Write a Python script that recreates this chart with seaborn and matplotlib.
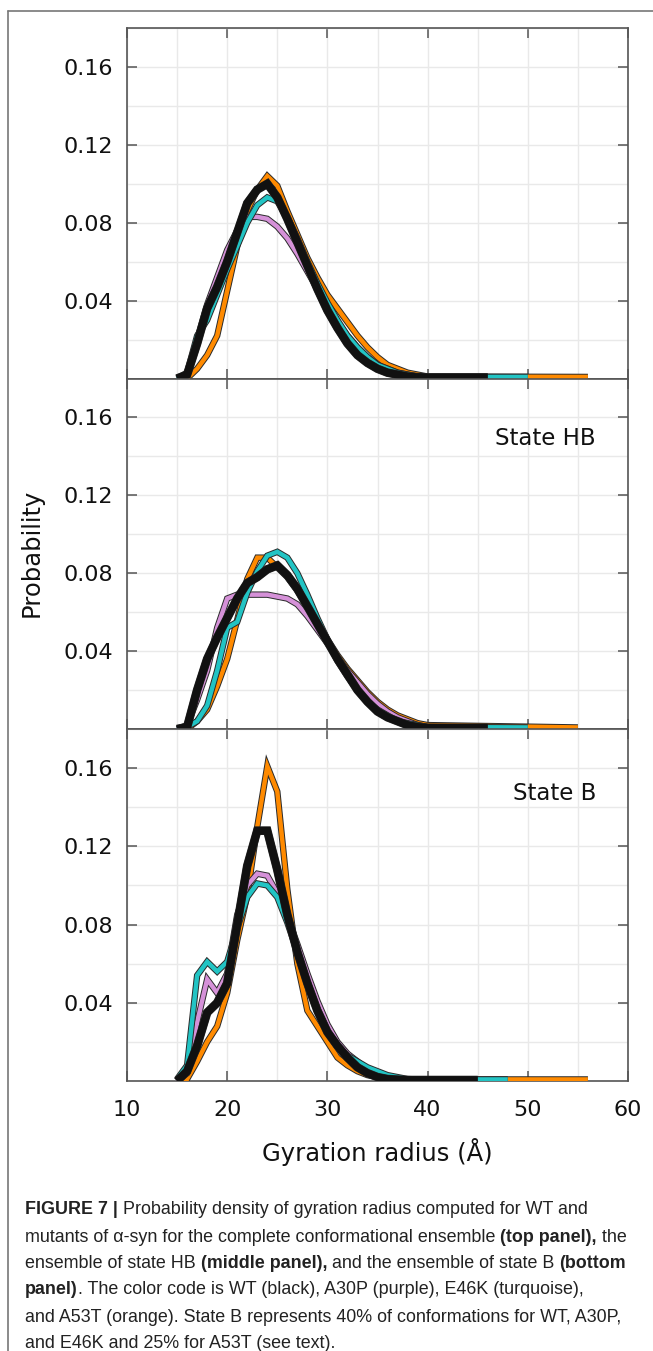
import numpy as np
import pandas as pd
import seaborn as sns
import matplotlib
matplotlib.use("Agg")
import matplotlib.pyplot as plt
import matplotlib.patheffects as pe
from matplotlib.lines import Line2D
from matplotlib.ticker import MultipleLocator

# ---------------- data ----------------
radius = [15, 16, 17, 18, 19, 20, 21, 22, 23, 24, 25, 26, 27, 28, 29, 30,
          31, 32, 33, 34, 35, 36, 37, 38, 39, 40]

# complete ensemble (top panel)
full_wt   = [0.000, 0.002, 0.018, 0.036, 0.047, 0.060, 0.075, 0.090, 0.097, 0.100, 0.093, 0.082, 0.070,
             0.058, 0.046, 0.035, 0.026, 0.018, 0.012, 0.008, 0.005, 0.003, 0.002, 0.001, 0.0007, 0.0005]
full_a30p = [0.000, 0.002, 0.020, 0.038, 0.052, 0.066, 0.076, 0.083, 0.083, 0.082, 0.078, 0.072, 0.064,
             0.055, 0.046, 0.037, 0.029, 0.022, 0.016, 0.011, 0.007, 0.005, 0.003, 0.002, 0.001, 0.0007]
full_e46k = [0.000, 0.003, 0.022, 0.030, 0.043, 0.056, 0.068, 0.080, 0.089, 0.093, 0.091, 0.083, 0.072,
             0.060, 0.049, 0.039, 0.030, 0.022, 0.016, 0.011, 0.007, 0.005, 0.003, 0.002, 0.001, 0.0008]
full_a53t = [0.000, 0.000, 0.005, 0.012, 0.022, 0.045, 0.068, 0.086, 0.097, 0.104, 0.099, 0.086, 0.074,
             0.062, 0.052, 0.043, 0.036, 0.029, 0.022, 0.016, 0.011, 0.007, 0.005, 0.003, 0.002, 0.001]
full_tail = [46, 46, 50, 56]

# state HB (middle panel)
hb_wt   = [0.000, 0.001, 0.020, 0.036, 0.047, 0.057, 0.067, 0.075, 0.078, 0.082, 0.084, 0.079, 0.072,
           0.063, 0.054, 0.045, 0.036, 0.028, 0.020, 0.014, 0.009, 0.006, 0.004, 0.002, 0.001, 0.0006]
hb_a30p = [0.000, 0.002, 0.015, 0.030, 0.052, 0.067, 0.069, 0.069, 0.069, 0.069, 0.068, 0.067, 0.064,
           0.058, 0.051, 0.044, 0.037, 0.030, 0.024, 0.018, 0.013, 0.009, 0.006, 0.004, 0.002, 0.001]
hb_e46k = [0.000, 0.001, 0.004, 0.012, 0.030, 0.052, 0.055, 0.070, 0.081, 0.089, 0.091, 0.088, 0.080,
           0.069, 0.057, 0.046, 0.035, 0.027, 0.020, 0.014, 0.010, 0.007, 0.004, 0.003, 0.002, 0.001]
hb_a53t = [0.000, 0.000, 0.004, 0.010, 0.022, 0.036, 0.056, 0.077, 0.088, 0.088, 0.083, 0.078, 0.071,
           0.063, 0.055, 0.046, 0.038, 0.031, 0.025, 0.019, 0.014, 0.010, 0.007, 0.005, 0.003, 0.002]
hb_tail = [46, 46, 50, 55]

# state B (bottom panel)
b_wt   = [0.000, 0.005, 0.018, 0.035, 0.040, 0.050, 0.080, 0.110, 0.128, 0.128, 0.108, 0.085, 0.066,
          0.050, 0.036, 0.025, 0.018, 0.012, 0.007, 0.004, 0.002, 0.001, 0.0007, 0.0005, 0.0005, 0.0005]
b_a30p = [0.000, 0.004, 0.030, 0.052, 0.045, 0.055, 0.085, 0.100, 0.106, 0.105, 0.096, 0.084, 0.070,
          0.055, 0.041, 0.029, 0.020, 0.014, 0.010, 0.006, 0.004, 0.002, 0.001, 0.0007, 0.0005, 0.0005]
b_e46k = [0.001, 0.008, 0.054, 0.061, 0.056, 0.061, 0.078, 0.094, 0.101, 0.100, 0.094, 0.081, 0.066,
          0.051, 0.037, 0.026, 0.018, 0.013, 0.010, 0.007, 0.005, 0.003, 0.002, 0.001, 0.0008, 0.0008]
b_a53t = [0.000, 0.001, 0.010, 0.020, 0.028, 0.045, 0.072, 0.095, 0.130, 0.161, 0.148, 0.098, 0.060,
          0.036, 0.028, 0.020, 0.012, 0.008, 0.005, 0.003, 0.002, 0.001, 0.0008, 0.0008, 0.0008, 0.0008]
b_tail = [45, 45, 48, 56]

tail_level = 0.0008
series_names = ["WT", "A30P", "E46K", "A53T"]
series_colors = {"WT": "#111111", "A30P": "#d591d8", "E46K": "#22c4c4", "A53T": "#ff8a00"}
x_ticks = [10, 20, 30, 40, 50, 60]
y_ticks = [0.04, 0.08, 0.12, 0.16]
state_labels = ["", "State HB", "State B"]

caption_lines = [
    [("FIGURE 7 |", True), (" Probability density of gyration radius computed for WT and", False)],
    [("mutants of \u03b1-syn for the complete conformational ensemble ", False), ("(top panel),", True), (" the", False)],
    [("ensemble of state HB ", False), ("(middle panel),", True), (" and the ensemble of state B ", False), ("(bottom", True)],
    [("panel)", True), (". The color code is WT (black), A30P (purple), E46K (turquoise),", False)],
    [("and A53T (orange). State B represents 40% of conformations for WT, A30P,", False)],
    [("and E46K and 25% for A53T (see text).", False)],
]

panels = [
    (full_wt, full_a30p, full_e46k, full_a53t, full_tail),
    (hb_wt, hb_a30p, hb_e46k, hb_a53t, hb_tail),
    (b_wt, b_a30p, b_e46k, b_a53t, b_tail),
]

# ---------------- figure ----------------
sns.set_style("white")
plt.rcParams["font.family"] = ["DejaVu Sans"]

W, H = 653, 1351
fig = plt.figure(figsize=(W / 100, H / 100), dpi=100)

left_px, right_px = 127, 628
tops = [28, 378.5, 729]
bots = [378.5, 729, 1081]

draw_order = ["A53T", "A30P", "E46K", "WT"]

for i, (wt, a30p, e46k, a53t, tails) in enumerate(panels):
    ax = fig.add_axes([left_px / W, 1 - bots[i] / H, (right_px - left_px) / W, (bots[i] - tops[i]) / H])
    data = {"WT": wt, "A30P": a30p, "E46K": e46k, "A53T": a53t}
    tail_of = dict(zip(series_names, tails))
    for name in draw_order:
        xs = radius + [tail_of[name]]
        ys = data[name] + [tail_level if name != "WT" else data[name][-1]]
        df = pd.DataFrame({"r": xs, "p": ys})
        if name == "WT":
            lw, ow = 5.6, 6.2
        else:
            lw, ow = 3.2, 4.6
        sns.lineplot(data=df, x="r", y="p", ax=ax, color=series_colors[name], linewidth=lw,
                     sort=False, estimator=None, legend=False)
        ln = ax.lines[-1]
        ln.set_solid_joinstyle("miter")
        ln.set_solid_capstyle("butt")
        ln.set_path_effects([pe.Stroke(linewidth=ow, foreground="#2a2a2a"), pe.Normal()])
        ln.set_zorder(3)

    ax.set_xlim(10, 60)
    ax.set_ylim(0, 0.18)
    ax.set_xticks(x_ticks)
    ax.xaxis.set_minor_locator(MultipleLocator(5))
    ax.set_yticks(y_ticks)
    ax.yaxis.set_minor_locator(MultipleLocator(0.02))
    ax.set_axisbelow(True)
    ax.grid(which="both", color="#e9e9e9", linewidth=1.0)
    ax.tick_params(which="major", direction="in", length=7, width=1.1, color="#555555",
                   top=True, right=True, bottom=True, left=True, labelsize=16, pad=10,
                   labelcolor="#111111")
    ax.tick_params(which="minor", length=0)
    ax.yaxis.set_major_formatter(matplotlib.ticker.FuncFormatter(lambda v, p: f"{v:.2f}"))
    for s in ax.spines.values():
        s.set_color("#555555")
        s.set_linewidth(1.2)
    ax.set_xlabel("")
    ax.set_ylabel("")
    if i < 2:
        ax.tick_params(labelbottom=False)
    else:
        ax.tick_params(axis="x", pad=14)
        ax.set_xticklabels([str(t) for t in x_ticks])
    if state_labels[i]:
        ypos = 0.829 if i == 1 else 0.818
        ax.text(0.936, ypos, state_labels[i], transform=ax.transAxes, ha="right", va="center",
                fontsize=16.5, color="#111111")

# axis labels
fig.text(32 / W, 1 - 553 / H, "Probability", rotation=90, ha="center", va="center", fontsize=17.5,
         color="#111111")
fig.text(377 / W, 1 - 1152 / H, "Gyration radius (\u00c5)", ha="center", va="center", fontsize=17.5,
         color="#111111")

# outer frame (left and top lines)
fig.add_artist(Line2D([8 / W, 8 / W], [0, 1 - 11 / H], transform=fig.transFigure, color="#777777", lw=1.2))
fig.add_artist(Line2D([8 / W, 1], [1 - 11 / H, 1 - 11 / H], transform=fig.transFigure, color="#777777", lw=1.2))

# caption, segment by segment
cap_family = ["Liberation Sans Narrow", "Liberation Sans", "DejaVu Sans"]
cap_size = 12.9
renderer = fig.canvas.get_renderer()
line_y = [1210, 1237, 1264, 1290, 1317, 1343]
for ly, segs in zip(line_y, caption_lines):
    x = 25.0
    for txt, bold in segs:
        t = fig.text(x / W, 1 - ly / H, txt, ha="left", va="center", fontsize=cap_size,
                     family=cap_family, fontweight="bold" if bold else "normal", color="#222222")
        bb = t.get_window_extent(renderer=renderer)
        x += bb.width

fig.savefig("out.png", dpi=100)
